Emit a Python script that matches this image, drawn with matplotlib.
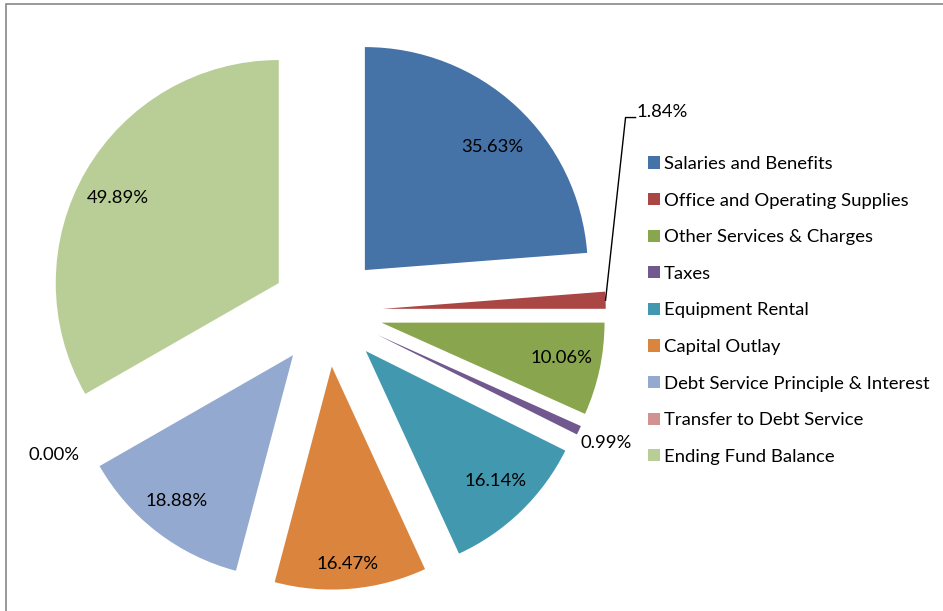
import numpy as np
import matplotlib.pyplot as plt
from matplotlib.patches import Rectangle

categories = [
    "Salaries and Benefits",
    "Office and Operating Supplies",
    "Other Services & Charges",
    "Taxes",
    "Equipment Rental",
    "Capital Outlay",
    "Debt Service Principle & Interest",
    "Transfer to Debt Service",
    "Ending Fund Balance",
]
values = [35.63, 1.84, 10.06, 0.99, 16.14, 16.47, 18.88, 0.00, 49.89]
colors = ["#4572A7", "#AA4643", "#89A54E", "#71588F", "#4198AF",
          "#DB843D", "#93A9CF", "#D19392", "#B9CD96"]

plt.rcParams["font.family"] = ["Lato", "DejaVu Sans"]
fs = 13.3

W, H = 943, 611
fig = plt.figure(figsize=(W / 100, H / 100), dpi=100)
ax = fig.add_axes([0, 0, 1, 1])

wedges, _ = ax.pie(
    values,
    colors=colors,
    startangle=90,
    counterclock=False,
    explode=[0.25] * len(values),
    radius=1,
)

# pie centre at (327, 311) px from top-left, radius 223 px
r_px = 223
cx, cy = 327, 311
ax.set_xlim(-cx / r_px, (W - cx) / r_px)
ax.set_ylim(-(H - cy) / r_px, cy / r_px)
ax.set_aspect("equal", adjustable="datalim")
ax.axis("off")

# label distance from each (exploded) wedge centre, and small angle nudges
label_dist = [0.80, 1.538, 0.82, 1.13, 0.82, 0.88, 0.83, 1.13, 0.82]
angle_shift = [-2.9, 33.1, 1.5, 0.4, 1.1, -0.3, -1.3, -2.7, 1.7]

for i, (w, v) in enumerate(zip(wedges, values)):
    mid = np.deg2rad((w.theta1 + w.theta2) / 2)
    ang = mid + np.deg2rad(angle_shift[i])
    x0, y0 = w.center
    tx = x0 + label_dist[i] * np.cos(ang)
    ty = y0 + label_dist[i] * np.sin(ang)
    ax.text(tx, ty, f"{v:.2f}%", ha="center", va="center_baseline", fontsize=fs)
    if i == 1:
        # leader line from the thin slice out to its label
        tip = (x0 + np.cos(mid), y0 + np.sin(mid))
        lx, ly = tx - 27 / r_px, ty - 7 / r_px
        ax.plot([tip[0], lx - 10 / r_px, lx], [tip[1], ly, ly],
                color="black", lw=1)

leg = fig.legend(
    wedges, categories,
    loc="upper left",
    bbox_to_anchor=(648 / W, 1 - 156 / H),
    frameon=False,
    fontsize=fs,
    handlelength=0.65,
    handleheight=0.65,
    handletextpad=0.22,
    labelspacing=1.115,
    borderpad=0,
    borderaxespad=0,
)

# chart area border
fig.patches.append(Rectangle((6 / W, -0.1), 1.2, 1 - 4 / H + 0.1,
                             transform=fig.transFigure, fill=False,
                             edgecolor="#888888", lw=1.2))

fig.savefig("out.png", dpi=100)
